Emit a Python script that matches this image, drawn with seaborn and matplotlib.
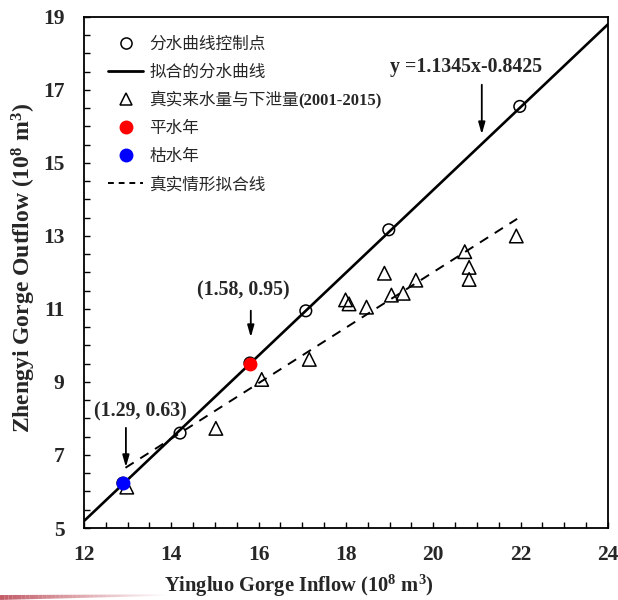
import numpy as np
import pandas as pd
import matplotlib
matplotlib.use("Agg")
import matplotlib.pyplot as plt
import seaborn as sns
from matplotlib.lines import Line2D
from matplotlib.collections import LineCollection

# ---- data ----
ctrl_x = [12.89, 14.20, 15.80, 17.08, 18.98, 21.98]
ctrl_y = [6.23, 7.60, 9.52, 10.95, 13.17, 16.55]

fit_x = [12.0, 24.0]
fit_y = [5.19, 18.80]

obs_x = [12.98, 15.02, 16.07, 17.16, 17.99, 18.07, 18.47, 18.88, 19.04, 19.31,
         19.60, 20.72, 20.82, 20.82, 21.90]
obs_y = [6.12, 7.73, 9.07, 9.62, 11.25, 11.14, 11.05, 11.98, 11.38, 11.43,
         11.79, 12.57, 12.14, 11.81, 13.00]

normal_x = [15.80]
normal_y = [9.50]
dry_x = [12.89]
dry_y = [6.23]

dash_x = [12.95, 21.92]
dash_y = [6.65, 13.47]

labels = ["分水曲线控制点", "拟合的分水曲线", "真实来水量与下泄量",
          "平水年", "枯水年", "真实情形拟合线"]
label_suffix = "(2001-2015)"
eq_text = "y =1.1345x-0.8425"
ann_normal = "(1.58, 0.95)"
ann_dry = "(1.29, 0.63)"
xlabel = "Yingluo Gorge Inflow (10$^{\\mathbf{8}}$ m$^{\\mathbf{3}}$)"
ylabel = "Zhengyi Gorge Outflow (10$^{\\mathbf{8}}$ m$^{\\mathbf{3}}$)"

# ---- style ----
sns.set_style("ticks")
plt.rcParams['font.family'] = ['Liberation Serif', 'Noto Sans CJK SC']
plt.rcParams['mathtext.fontset'] = 'custom'
plt.rcParams['mathtext.rm'] = 'Liberation Serif:bold'
plt.rcParams['mathtext.bf'] = 'Liberation Serif:bold'
plt.rcParams['mathtext.it'] = 'Liberation Serif:bold'

fig = plt.figure(figsize=(6.18, 6.0), dpi=100)
ax = fig.add_axes([0.1359, 0.12, 0.8479, 0.8517])

# lines
sns.lineplot(x=fit_x, y=fit_y, ax=ax, color='black', lw=1.9, zorder=2)
sns.lineplot(x=dash_x, y=dash_y, ax=ax, color='black', lw=1.4, zorder=2,
             linestyle=(0, (5, 4)))

# points
sns.scatterplot(x=ctrl_x, y=ctrl_y, ax=ax, marker='o', s=70, facecolor='none',
                edgecolor='black', linewidth=1.1, zorder=3)
sns.scatterplot(x=obs_x, y=obs_y, ax=ax, marker='^', s=95, facecolor='none',
                edgecolor='black', linewidth=1.1, zorder=3)
sns.scatterplot(x=normal_x, y=normal_y, ax=ax, marker='o', s=100, color='#ff0000',
                edgecolor='#ff0000', linewidth=0, zorder=4)
sns.scatterplot(x=dry_x, y=dry_y, ax=ax, marker='o', s=100, color='#0000ff',
                edgecolor='#0000ff', linewidth=0, zorder=4)

ax.set_xlim(12, 24)
ax.set_ylim(5, 19)
ax.set_xticks(np.arange(12, 24.1, 2))
ax.set_yticks(np.arange(5, 19.1, 2))
ax.set_xticks(np.arange(12, 24.1, 0.5), minor=True)
ax.set_yticks(np.arange(5, 19.1, 0.5), minor=True)
ax.tick_params(axis='both', which='both', direction='in', top=False, right=False,
               width=1.0, color='black', length=4)
ax.tick_params(axis='x', which='major', labelsize=15.5, pad=12.5)
ax.tick_params(axis='y', which='major', labelsize=15.5, pad=14)
for lab in ax.get_xticklabels() + ax.get_yticklabels():
    lab.set_fontweight('bold')
for sp in ax.spines.values():
    sp.set_visible(True)
    sp.set_linewidth(1.3)
    sp.set_color('black')

ax.set_xlabel(xlabel, fontsize=14.8, fontweight='bold')
ax.set_ylabel(ylabel, fontsize=17, fontweight='bold')
ax.xaxis.set_label_coords(0.41, -0.088)
ax.yaxis.set_label_coords(-0.087, 0.509)

# annotations
ann_fs = 14.3
arrow_kw = dict(arrowstyle='-|>,head_length=0.7,head_width=0.2', color='black', lw=1.3)
ax.text(20.75, 17.63, eq_text, ha='center', va='center', fontsize=ann_fs, fontweight='bold')
ax.annotate('', xy=(21.11, 15.71), xytext=(21.11, 17.22), arrowprops=arrow_kw)
ax.text(15.66, 11.52, ann_normal, ha='center', va='center', fontsize=ann_fs, fontweight='bold')
ax.annotate('', xy=(15.82, 10.15), xytext=(15.82, 11.03), arrowprops=arrow_kw)
ax.text(13.28, 8.18, ann_dry, ha='center', va='center', fontsize=ann_fs, fontweight='bold')
ax.annotate('', xy=(12.96, 6.59), xytext=(12.96, 7.82), arrowprops=arrow_kw)

# legend
handles = [
    Line2D([], [], marker='o', linestyle='none', markerfacecolor='none',
           markeredgecolor='black', markersize=8, markeredgewidth=1.1),
    Line2D([], [], color='black', lw=2.0),
    Line2D([], [], marker='^', linestyle='none', markerfacecolor='none',
           markeredgecolor='black', markersize=8, markeredgewidth=1.1),
    Line2D([], [], marker='o', linestyle='none', color='#ff0000', markersize=9),
    Line2D([], [], marker='o', linestyle='none', color='#0000ff', markersize=9),
    Line2D([], [], color='black', lw=1.4, linestyle=(0, (3, 2.5))),
]
leg = ax.legend(handles, labels, loc='upper left', bbox_to_anchor=(0.046, 0.962),
                frameon=False, handlelength=2.1, handletextpad=0.36,
                labelspacing=0.73, borderaxespad=0, borderpad=0,
                prop={'family': ['Liberation Serif', 'Noto Sans CJK SC'], 'size': 12})
for t in leg.get_texts():
    t.set_fontfamily(['Liberation Serif', 'Noto Sans CJK SC'])
    t.set_fontweight('normal')

# bold year range appended after the third legend label (drawn after the legend)
third = leg.get_texts()[2]
ax.annotate(label_suffix, xy=(1.0, 0.45), xycoords=third, ha='left', va='center',
            fontsize=12, fontweight='bold', family='Liberation Serif', zorder=10)

# decorative fading stroke at bottom-left of the page
n = 40
xs = np.linspace(0, 170, n + 1)
ys_top = 597.5 - 2.5 * xs / 170          # pixels from top
segs = [[(xs[i] / 618, 1 - ys_top[i] / 600), (xs[i + 1] / 618, 1 - ys_top[i + 1] / 600)]
        for i in range(n)]
alphas = np.linspace(0.85, 0.0, n)
cols = [(0.72, 0.25, 0.30, a) for a in alphas]
lws = np.linspace(3.5, 1.0, n)
lc = LineCollection(segs, colors=cols, linewidths=lws, transform=fig.transFigure)
fig.add_artist(lc)

fig.savefig('out.png', dpi=100, facecolor='white')
